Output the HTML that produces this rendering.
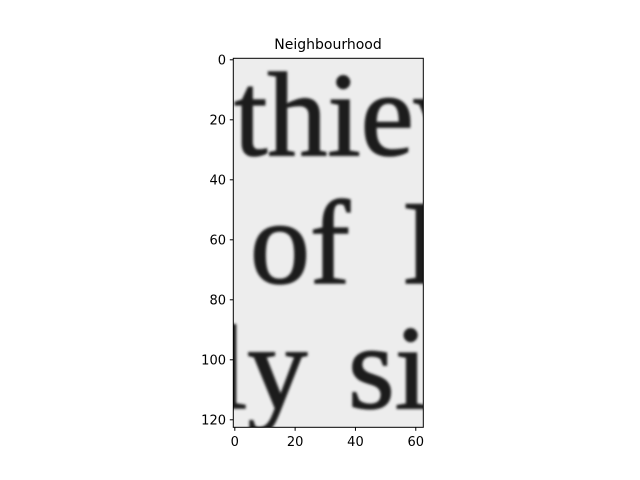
<!DOCTYPE html>
<html><head><meta charset="utf-8"><style>
body{margin:0;background:#fff;}
svg{display:block;font-family:"DejaVu Sans","Liberation Sans",sans-serif;}
</style></head><body>
<svg width="640" height="480">
<defs>
<clipPath id="clip"><rect x="233.3" y="58.3" width="190" height="369"/></clipPath>
<filter id="blur"><feGaussianBlur stdDeviation="1.2"/></filter>
</defs>
<text x="328" y="49" font-size="14" text-anchor="middle">Neighbourhood</text>
<g clip-path="url(#clip)">
<rect x="233.3" y="58.3" width="190" height="369" fill="#ededed"/>
<g filter="url(#blur)" fill="#1c1c1c" font-family="Liberation Serif, serif" font-size="120" stroke="#1c1c1c" stroke-width="1.5">
<text x="234" y="155">thiev</text>
<text x="250" y="283">of</text>
<text x="402" y="283">I</text>
<text x="214" y="408">ly</text>
<text x="348" y="408">si</text>
</g>
</g>
<rect x="233.3" y="58.3" width="190" height="369" fill="none" stroke="#000" stroke-width="1"/>
<g id="ticks" font-size="13"></g>
</svg>
<script>
const xTicks=[0,20,40,60];
const yTicks=[0,20,40,60,80,100,120];
const x0=233.3,y0=58.3,s=3.016,sy=3.0;
const X=v=>x0+(v+0.5)*s, Y=v=>y0+(v+0.5)*sy;
const g=document.getElementById('ticks');
const ns='http://www.w3.org/2000/svg';
xTicks.forEach(v=>{
 const l=document.createElementNS(ns,'line');
 l.setAttribute('x1',X(v));l.setAttribute('x2',X(v));l.setAttribute('y1',427.3);l.setAttribute('y2',430.8);l.setAttribute('stroke','#000');
 
 
 g.appendChild(l);
 const t=document.createElementNS(ns,'text');
 t.setAttribute('x',X(v));t.setAttribute('y',446);t.setAttribute('text-anchor','middle');t.textContent=v;
 
 
 g.appendChild(t);
});
yTicks.forEach(v=>{
 const l=document.createElementNS(ns,'line');
 l.setAttribute('x1',229.8);l.setAttribute('x2',233.3);l.setAttribute('y1',Y(v));l.setAttribute('y2',Y(v));l.setAttribute('stroke','#000');
 
 
 g.appendChild(l);
 const t=document.createElementNS(ns,'text');
 t.setAttribute('x',226);t.setAttribute('y',Y(v)+4.5);t.setAttribute('text-anchor','end');t.textContent=v;
 
 
 g.appendChild(t);
});
</script>
</body></html>
